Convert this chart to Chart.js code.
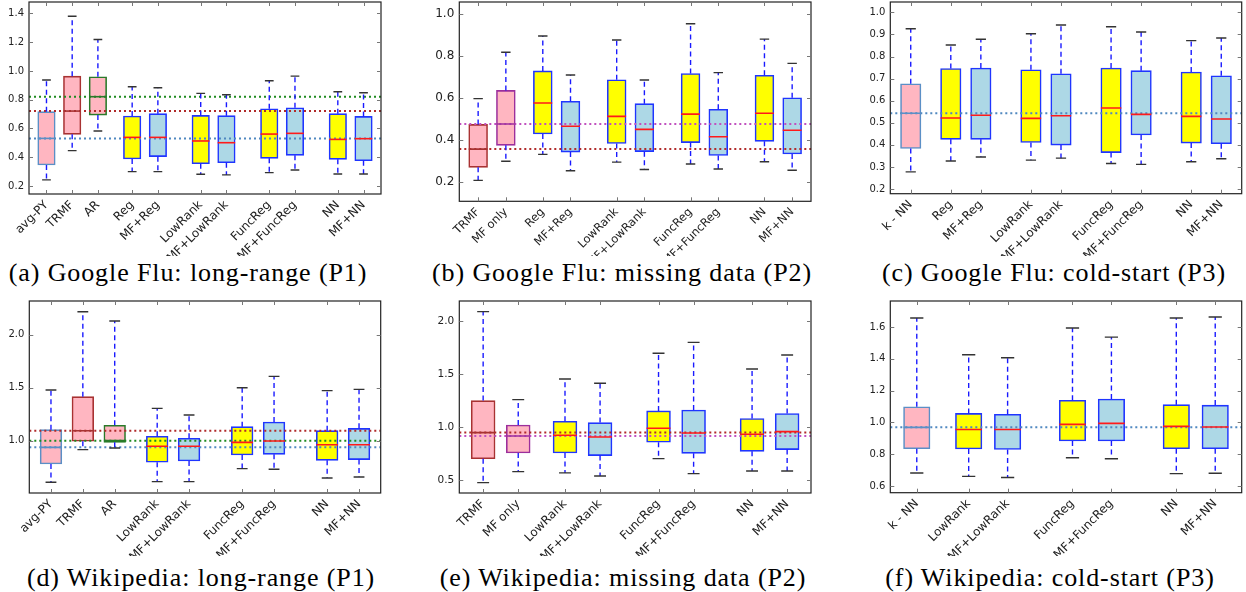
<!DOCTYPE html>
<html>
<head>
<meta charset="utf-8">
<script src="https://cdn.jsdelivr.net/npm/chart.js@4.4.1/dist/chart.umd.min.js"></script>
<style>
  body { margin: 0; background: #fff; width: 1246px; height: 592px; position: relative; overflow: hidden; }
  canvas { position: absolute; }
  .cap { position: absolute; width: 500px; text-align: center; white-space: nowrap;
         font-family: "Liberation Serif", serif; font-size: 26px; letter-spacing: 0.9px; line-height: 1; color: #000; }
</style>
</head>
<body>
<canvas id="a" width="400" height="256" style="left:0;top:0"></canvas>
<canvas id="b" width="400" height="256" style="left:420px;top:0"></canvas>
<canvas id="c" width="416" height="256" style="left:830px;top:0"></canvas>
<canvas id="d" width="400" height="266" style="left:0;top:290px"></canvas>
<canvas id="e" width="400" height="266" style="left:420px;top:290px"></canvas>
<canvas id="f" width="416" height="266" style="left:830px;top:290px"></canvas>
<div class="cap" style="left:-62px;top:260px">(a) Google Flu: long-range (P1)</div>
<div class="cap" style="left:372px;top:260px">(b) Google Flu: missing data (P2)</div>
<div class="cap" style="left:804px;top:260px">(c) Google Flu: cold-start (P3)</div>
<div class="cap" style="left:-49px;top:565px">(d) Wikipedia: long-range (P1)</div>
<div class="cap" style="left:373px;top:565px">(e) Wikipedia: missing data (P2)</div>
<div class="cap" style="left:800px;top:565px">(f) Wikipedia: cold-start (P3)</div>
<script>
// (a) Google Flu: long-range
const fluLongNames = ['avg-PY', 'TRMF', 'AR', 'Reg', 'MF+Reg', 'LowRank', 'MF+LowRank', 'FuncReg', 'MF+FuncReg', 'NN', 'MF+NN'];
const fluLongGroups = [3, 2, 2, 2, 2];
const fluLongLow = [0.242, 0.446, 0.582, 0.300, 0.300, 0.281, 0.277, 0.293, 0.311, 0.283, 0.283];
const fluLongQ1 = [0.346, 0.559, 0.693, 0.388, 0.404, 0.355, 0.362, 0.392, 0.413, 0.385, 0.376];
const fluLongMed = [0.531, 0.721, 0.821, 0.538, 0.538, 0.513, 0.501, 0.561, 0.566, 0.524, 0.529];
const fluLongQ3 = [0.717, 0.964, 0.960, 0.687, 0.703, 0.691, 0.689, 0.737, 0.744, 0.703, 0.684];
const fluLongHigh = [0.937, 1.381, 1.219, 0.890, 0.883, 0.844, 0.835, 0.932, 0.964, 0.856, 0.849];
const fluLongTicks = [0.2, 0.4, 0.6, 0.8, 1.0, 1.2, 1.4];

// (b) Google Flu: missing data
const fluMissNames = ['TRMF', 'MF only', 'Reg', 'MF+Reg', 'LowRank', 'MF+LowRank', 'FuncReg', 'MF+FuncReg', 'NN', 'MF+NN'];
const fluMissGroups = [2, 2, 2, 2, 2];
const fluMissLow = [0.208, 0.299, 0.332, 0.254, 0.295, 0.260, 0.286, 0.262, 0.297, 0.256];
const fluMissQ1 = [0.270, 0.375, 0.429, 0.343, 0.384, 0.345, 0.388, 0.327, 0.394, 0.334];
const fluMissMed = [0.357, 0.477, 0.577, 0.466, 0.513, 0.451, 0.524, 0.416, 0.528, 0.447];
const fluMissQ3 = [0.475, 0.637, 0.730, 0.585, 0.688, 0.574, 0.718, 0.547, 0.709, 0.602];
const fluMissHigh = [0.598, 0.819, 0.897, 0.711, 0.878, 0.687, 0.955, 0.722, 0.882, 0.766];
const fluMissTicks = [0.2, 0.4, 0.6, 0.8, 1.0];

// (c) Google Flu: cold-start
const fluColdNames = ['k - NN', 'Reg', 'MF+Reg', 'LowRank', 'MF+LowRank', 'FuncReg', 'MF+FuncReg', 'NN', 'MF+NN'];
const fluColdGroups = [1, 2, 2, 2, 2];
const fluColdLow = [0.278, 0.327, 0.345, 0.331, 0.340, 0.316, 0.312, 0.324, 0.337];
const fluColdQ1 = [0.384, 0.425, 0.425, 0.411, 0.399, 0.365, 0.445, 0.408, 0.405];
const fluColdMed = [0.543, 0.522, 0.534, 0.520, 0.532, 0.567, 0.538, 0.529, 0.517];
const fluColdQ3 = [0.677, 0.746, 0.748, 0.740, 0.722, 0.748, 0.736, 0.730, 0.713];
const fluColdHigh = [0.926, 0.852, 0.878, 0.903, 0.943, 0.935, 0.911, 0.872, 0.884];
const fluColdTicks = [0.2, 0.3, 0.4, 0.5, 0.6, 0.7, 0.8, 0.9, 1.0];

// (d) Wikipedia: long-range
const wikiLongNames = ['avg-PY', 'TRMF', 'AR', 'LowRank', 'MF+LowRank', 'FuncReg', 'MF+FuncReg', 'NN', 'MF+NN'];
const wikiLongGroups = [3, 2, 2, 2];
const wikiLongLow = [0.607, 0.915, 0.931, 0.613, 0.613, 0.736, 0.730, 0.648, 0.657];
const wikiLongQ1 = [0.780, 0.994, 0.984, 0.796, 0.808, 0.865, 0.871, 0.814, 0.821];
const wikiLongMed = [0.937, 1.094, 1.000, 0.947, 0.947, 0.984, 0.997, 0.962, 0.962];
const wikiLongQ3 = [1.104, 1.415, 1.145, 1.041, 1.022, 1.132, 1.176, 1.094, 1.116];
const wikiLongHigh = [1.478, 2.217, 2.129, 1.305, 1.242, 1.500, 1.607, 1.472, 1.484];
const wikiLongTicks = [1.0, 1.5, 2.0];

// (e) Wikipedia: missing data
const wikiMissNames = ['TRMF', 'MF only', 'LowRank', 'MF+LowRank', 'FuncReg', 'MF+FuncReg', 'NN', 'MF+NN'];
const wikiMissGroups = [2, 2, 2, 2];
const wikiMissLow = [0.480, 0.583, 0.571, 0.542, 0.705, 0.564, 0.589, 0.589];
const wikiMissQ1 = [0.705, 0.759, 0.759, 0.734, 0.859, 0.755, 0.774, 0.790];
const wikiMissMed = [0.950, 0.918, 0.925, 0.909, 0.991, 0.947, 0.934, 0.959];
const wikiMissQ3 = [1.251, 1.022, 1.056, 1.044, 1.154, 1.163, 1.082, 1.129];
const wikiMissHigh = [2.088, 1.260, 1.455, 1.414, 1.696, 1.799, 1.549, 1.680];
const wikiMissTicks = [0.5, 1.0, 1.5, 2.0];

// (f) Wikipedia: cold-start
const wikiColdNames = ['k - NN', 'LowRank', 'MF+LowRank', 'FuncReg', 'MF+FuncReg', 'NN', 'MF+NN'];
const wikiColdGroups = [1, 2, 2, 2];
const wikiColdLow = [0.682, 0.661, 0.654, 0.778, 0.772, 0.678, 0.680];
const wikiColdQ1 = [0.835, 0.833, 0.830, 0.883, 0.883, 0.835, 0.835];
const wikiColdMed = [0.969, 0.956, 0.956, 0.988, 0.994, 0.975, 0.971];
const wikiColdQ3 = [1.099, 1.057, 1.051, 1.139, 1.147, 1.112, 1.109];
const wikiColdHigh = [1.657, 1.426, 1.407, 1.594, 1.537, 1.657, 1.663];
const wikiColdTicks = [0.6, 0.8, 1.0, 1.2, 1.4, 1.6];

// box colours: baselines have their own edge colour, methods are yellow / light blue
const baseStyles = {
    'avg-PY': '#5b8fc6',
    'k - NN': '#5b8fc6',
    'TRMF': '#a83232',
    'AR': '#2a7a2a',
    'MF only': '#9c2f9c'
};
const refColors = {
    'avg-PY': '#4f88c0',
    'k - NN': '#4f88c0',
    'TRMF': '#b02a2a',
    'AR': '#1f8a1f',
    'MF only': '#c050c0'
};
const PINK = '#ffb6c1', YELLOW = '#ffff00', LIGHTBLUE = '#add8e6', EDGE = '#1f35ff';

function boxStyle(name) {
    if (baseStyles[name]) return { fill: PINK, edge: baseStyles[name], median: baseStyles[name] };
    if (name.startsWith('MF+')) return { fill: LIGHTBLUE, edge: EDGE, median: '#ff1a1a' };
    return { fill: YELLOW, edge: EDGE, median: '#ff1a1a' };
}

function groupPositions(groups) {
    const pos = [];
    let p = 0;
    groups.forEach((n, g) => {
        for (let k = 0; k < n; k++) { pos.push(p); p += 1; }
        p += g === 0 ? 1 / 3 : 2 / 3;
    });
    return pos;
}

function makePanel(id, frame, names, groups, low, q1, med, q3, high, yTicks) {
    const pos = groupPositions(groups);
    const xMin = -0.68, xMax = pos[pos.length - 1] + 0.68;
    const [aL, aT, aR, aB] = frame.area;
    const canvas = document.getElementById(id);
    const W = canvas.width, H = canvas.height;
    const unit = (aR - aL) / (xMax - xMin);
    const boxW = 0.68 * unit;
    const styles = names.map(boxStyle);
    const nBase = groups[0];

    const datasets = [{
        type: 'bar',
        order: 2,
        data: pos.map((p, i) => ({ x: p, y: [q1[i], q3[i]] })),
        backgroundColor: styles.map(s => s.fill),
        borderColor: styles.map(s => s.edge),
        borderWidth: 1.6,
        borderSkipped: false,
        barThickness: boxW
    }];
    // dotted reference lines at the baseline medians
    for (let i = 0; i < nBase; i++) {
        datasets.push({
            type: 'line',
            order: 1,
            data: [{ x: xMin, y: med[i] }, { x: xMax, y: med[i] }],
            borderColor: refColors[names[i]],
            borderWidth: 2,
            borderDash: [2, 3],
            pointRadius: 0,
            fill: false
        });
    }

    const whiskers = {
        id: 'whiskers' + id,
        afterDatasetsDraw(chart) {
            const { ctx, chartArea: a, scales: { x, y } } = chart;
            ctx.save();
            ctx.beginPath();
            ctx.rect(a.left, a.top, a.right - a.left, a.bottom - a.top);
            ctx.clip();
            pos.forEach((p, i) => {
                const cx = x.getPixelForValue(p);
                // dashed whiskers
                ctx.strokeStyle = '#1a1aff';
                ctx.lineWidth = 1.4;
                ctx.setLineDash([5, 3.5]);
                ctx.beginPath();
                ctx.moveTo(cx, y.getPixelForValue(q3[i]));
                ctx.lineTo(cx, y.getPixelForValue(high[i]));
                ctx.moveTo(cx, y.getPixelForValue(q1[i]));
                ctx.lineTo(cx, y.getPixelForValue(low[i]));
                ctx.stroke();
                ctx.setLineDash([]);
                // caps
                ctx.strokeStyle = '#333';
                ctx.lineWidth = 1.4;
                ctx.beginPath();
                [low[i], high[i]].forEach(v => {
                    const py = y.getPixelForValue(v);
                    ctx.moveTo(cx - boxW / 4, py);
                    ctx.lineTo(cx + boxW / 4, py);
                });
                ctx.stroke();
                // median
                const my = y.getPixelForValue(med[i]);
                ctx.strokeStyle = styles[i].median;
                ctx.lineWidth = 1.6;
                ctx.beginPath();
                ctx.moveTo(cx - boxW / 2, my);
                ctx.lineTo(cx + boxW / 2, my);
                ctx.stroke();
            });
            ctx.restore();

            // frame and inward ticks
            ctx.save();
            ctx.strokeStyle = '#222';
            ctx.lineWidth = 1.2;
            ctx.strokeRect(a.left, a.top, a.right - a.left, a.bottom - a.top);
            ctx.strokeStyle = '#777';
            ctx.lineWidth = 1;
            ctx.beginPath();
            yTicks.forEach(v => {
                const py = Math.round(y.getPixelForValue(v)) + 0.5;
                ctx.moveTo(a.left, py); ctx.lineTo(a.left + 4, py);
                ctx.moveTo(a.right, py); ctx.lineTo(a.right - 4, py);
            });
            pos.forEach(p => {
                const px = Math.round(x.getPixelForValue(p)) + 0.5;
                ctx.moveTo(px, a.top); ctx.lineTo(px, a.top + 4);
                ctx.moveTo(px, a.bottom); ctx.lineTo(px, a.bottom - 4);
            });
            ctx.stroke();
            ctx.restore();
        }
    };

    return new Chart(canvas, {
        type: 'bar',
        data: { datasets: datasets },
        options: {
            responsive: false,
            animation: false,
            layout: { padding: { left: 0, top: aT, right: W - aR, bottom: 0 } },
            plugins: { legend: { display: false }, tooltip: { enabled: false } },
            scales: {
                x: {
                    type: 'linear',
                    offset: false,
                    min: xMin,
                    max: xMax,
                    grid: { display: false, drawTicks: false },
                    border: { display: false },
                    afterBuildTicks: s => { s.ticks = pos.map(v => ({ value: v })); },
                    afterFit: s => { s.height = H - aB; s.paddingLeft = 0; s.paddingRight = 0; },
                    ticks: {
                        autoSkip: false,
                        minRotation: 45,
                        maxRotation: 45,
                        padding: 4,
                        color: '#222',
                        font: { family: 'DejaVu Sans', size: frame.xFont },
                        callback: (v, i) => names[i]
                    }
                },
                y: {
                    min: frame.yMin,
                    max: frame.yMax,
                    grid: { display: false, drawTicks: false },
                    border: { display: false },
                    afterBuildTicks: s => { s.ticks = yTicks.map(v => ({ value: v })); },
                    afterFit: s => { s.width = aL; s.paddingTop = 0; s.paddingBottom = 0; },
                    ticks: {
                        padding: 5,
                        color: '#222',
                        font: { family: 'DejaVu Sans', size: frame.yFont },
                        callback: v => v.toFixed(1)
                    }
                }
            }
        },
        plugins: [whiskers]
    });
}

makePanel('a', { area: [29, 2, 381, 194], yMin: 0.144, yMax: 1.48, xFont: 12, yFont: 10 },
    fluLongNames, fluLongGroups, fluLongLow, fluLongQ1, fluLongMed, fluLongQ3, fluLongHigh, fluLongTicks);
makePanel('b', { area: [39.3, 2, 391, 201.3], yMin: 0.108, yMax: 1.059, xFont: 11.5, yFont: 12 },
    fluMissNames, fluMissGroups, fluMissLow, fluMissQ1, fluMissMed, fluMissQ3, fluMissHigh, fluMissTicks);
makePanel('c', { area: [60.3, 2, 411.7, 193.7], yMin: 0.179, yMax: 1.047, xFont: 12, yFont: 10 },
    fluColdNames, fluColdGroups, fluColdLow, fluColdQ1, fluColdMed, fluColdQ3, fluColdHigh, fluColdTicks);
makePanel('d', { area: [29.3, 11, 380.7, 203], yMin: 0.506, yMax: 2.318, xFont: 12, yFont: 10 },
    wikiLongNames, wikiLongGroups, wikiLongLow, wikiLongQ1, wikiLongMed, wikiLongQ3, wikiLongHigh, wikiLongTicks);
makePanel('e', { area: [39.3, 11, 391, 203], yMin: 0.382, yMax: 2.188, xFont: 12, yFont: 10.5 },
    wikiMissNames, wikiMissGroups, wikiMissLow, wikiMissQ1, wikiMissMed, wikiMissQ3, wikiMissHigh, wikiMissTicks);
makePanel('f', { area: [60.3, 11, 411.7, 202.7], yMin: 0.558, yMax: 1.764, xFont: 12, yFont: 10 },
    wikiColdNames, wikiColdGroups, wikiColdLow, wikiColdQ1, wikiColdMed, wikiColdQ3, wikiColdHigh, wikiColdTicks);
</script>
</body>
</html>
